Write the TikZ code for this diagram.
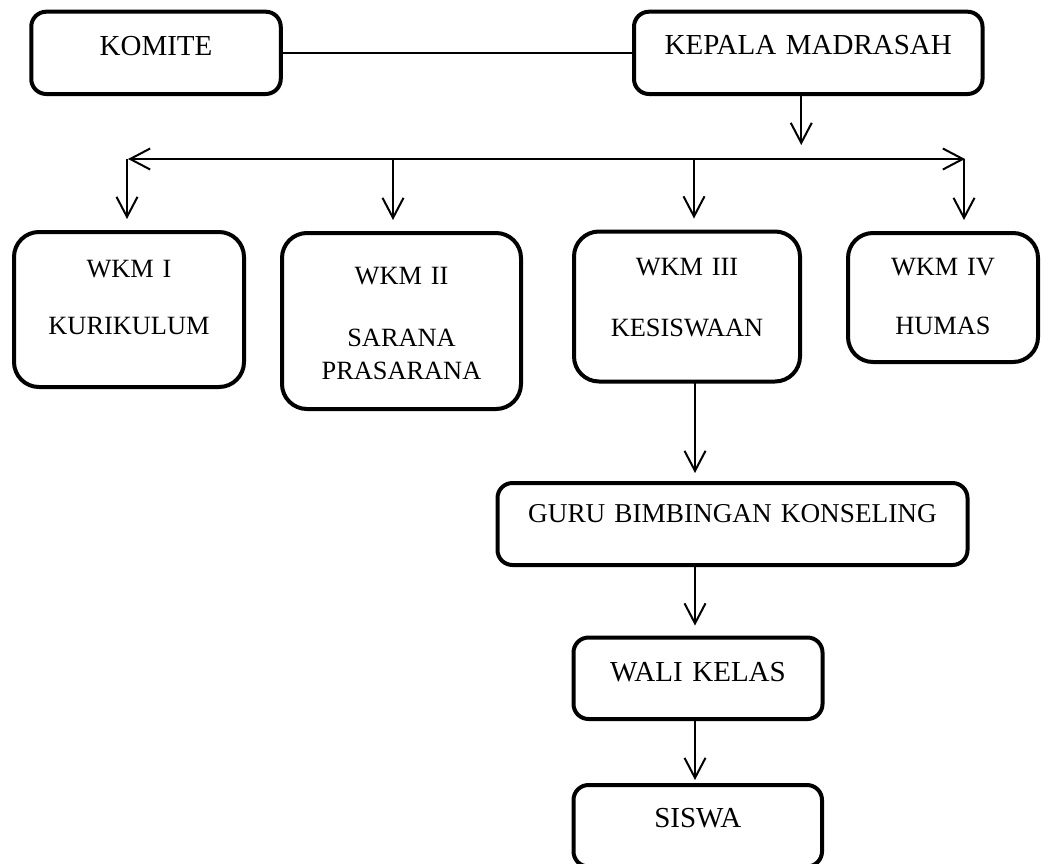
\documentclass[tikz,border=0pt]{standalone}
\usepackage{fontspec}
\setmainfont{Liberation Serif}
\usetikzlibrary{arrows.meta}

\tikzset{
  kotak/.style={draw, line width=0.08cm, rounded corners=0.3cm,
                inner sep=0pt, outer sep=0pt, align=center},
  bulat/.style={kotak, rounded corners=0.5cm},
  besar/.style={font=\fontsize{16.5}{20}\selectfont},
  kecil/.style={font=\fontsize{15}{18.8}\selectfont},
  garis/.style={line width=0.04cm},
  panah/.style={garis, >={Straight Barb[length=0.4cm,width=0.42cm]}}
}

\begin{document}
\begin{tikzpicture}
  \useasboundingbox (0,0) rectangle (20.82,-17.26);

  % --- pimpinan ---
  \node[kotak, besar, text width=4.99cm, text height=0.866cm, text depth=0.78cm]
    (komite) at (3.12,-1.057) {KOMITE};
  \node[kotak, besar, text width=6.97cm, text height=0.856cm, text depth=0.79cm]
    (kepala) at (16.165,-1.057) {KEPALA MADRASAH};
  \draw[garis] (komite.east) -- (kepala.west);

  % --- wakil kepala ---
  \node[bulat, kecil, text width=4.6cm, text height=0.9cm, text depth=2.2cm]
    (wkm1) at (2.58,-6.19) {WKM I\\[14.2pt]KURIKULUM};
  \node[bulat, kecil, text width=4.78cm, text height=1.02cm, text depth=2.5cm]
    (wkm2) at (8.03,-6.42) {WKM II\\[17pt]SARANA\\PRASARANA};
  \node[bulat, kecil, text width=4.52cm, text height=0.87cm, text depth=2.13cm]
    (wkm3) at (13.74,-6.13) {WKM III\\[16.3pt]KESISWAAN};
  \node[bulat, kecil, text width=3.8cm, text height=0.84cm, text depth=1.74cm]
    (wkm4) at (18.86,-5.95) {WKM IV\\[15.3pt]HUMAS};

  % --- jalur kesiswaan ---
  \node[kotak, font=\fontsize{15.5}{19}\selectfont, text width=9.4cm,
        text height=0.786cm, text depth=0.854cm]
    (bk) at (14.65,-10.48) {GURU BIMBINGAN KONSELING};
  \node[kotak, besar, text width=4.98cm, text height=0.87cm, text depth=0.76cm]
    (wali) at (13.96,-13.565) {WALI KELAS};
  \node[kotak, besar, text width=4.97cm, text height=0.84cm, text depth=0.79cm]
    (siswa) at (13.955,-16.515) {SISWA};

  % --- garis pembagi ---
  \coordinate (busL) at (2.56,-3.18);
  \coordinate (busR) at (19.3,-3.18);
  \coordinate (k0) at ([xshift=-0.14cm]kepala.south);
  \draw[panah, ->, shorten >=0.28cm] (k0) -- (k0 |- busL);
  \draw[panah, <->] (busL) -- (busR);
  \foreach \x [count=\i] in {2.54,7.86,13.88,19.28}
    \coordinate (d\i) at (\x,-3.18);
  \foreach \i in {1,...,4}
    \draw[panah, ->, shorten >=0.26cm] (d\i) -- (d\i |- wkm\i.north);

  \coordinate (jalur) at (13.9,0);
  \draw[panah, ->, shorten >=0.2cm] (wkm3.south -| jalur) -- (bk.north -| jalur);
  \draw[panah, ->, shorten >=0.24cm] (bk.south -| jalur) -- (wali.north -| jalur);
  \draw[panah, ->, shorten >=0.1cm] (wali.south -| jalur) -- (siswa.north -| jalur);
\end{tikzpicture}
\end{document}
